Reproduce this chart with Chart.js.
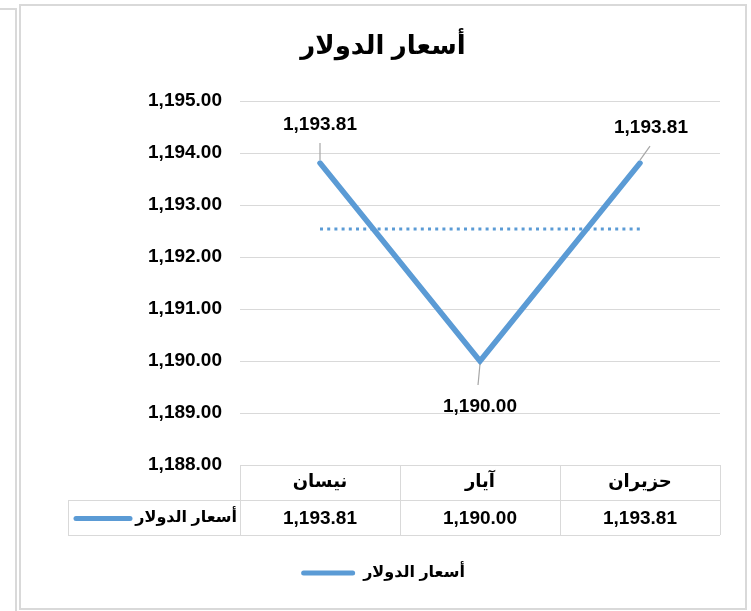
<!DOCTYPE html>
<html>
<head>
<meta charset="utf-8">
<script src="https://cdn.jsdelivr.net/npm/chart.js@4"></script>
<style>
  html, body { margin: 0; padding: 0; background: #fff; }
  #wrap { width: 751px; height: 611px; }
</style>
</head>
<body>
<div id="wrap"><canvas id="lineChart" width="751" height="611"></canvas></div>
<script>
// بيانات الرسم
const months = ['نيسان', 'آيار', 'حزيران'];
const prices = [1193.81, 1190.00, 1193.81];
const avgLine = [1192.54, 1192.54, 1192.54]; // الخط المنقط
const seriesName = 'أسعار الدولار';
const yMin = 1188, yMax = 1195;

const blue = '#5B9BD5';
const gridColor = '#d9d9d9';
const numFont = '"Liberation Sans", Arial, sans-serif';
const arFont = 'Arial, "Liberation Sans", "DejaVu Sans", sans-serif';

function fmt(v) {
    return v.toLocaleString('en-US', { minimumFractionDigits: 2, maximumFractionDigits: 2 });
}

// الإطار والجدول وتسميات النقاط
const extras = {
    id: 'extras',
    beforeDraw(chart) {
        const ctx = chart.ctx;
        ctx.save();
        ctx.strokeStyle = gridColor;
        ctx.lineWidth = 2;
        ctx.beginPath();
        ctx.moveTo(0, 9); ctx.lineTo(16, 9); ctx.lineTo(16, 611);
        ctx.stroke();
        ctx.beginPath();
        ctx.rect(20, 5, 726, 604);
        ctx.stroke();
        ctx.restore();
    },
    afterDraw(chart) {
        const ctx = chart.ctx;
        const x = chart.scales.x;
        const area = chart.chartArea;
        const step = x.getPixelForValue(1) - x.getPixelForValue(0);
        const top = area.bottom;
        const rowH = 35;
        const keyLeft = 68;

        ctx.save();
        // خطوط الجدول
        ctx.strokeStyle = gridColor;
        ctx.lineWidth = 1;
        ctx.beginPath();
        ctx.moveTo(area.left, top + 0.5); ctx.lineTo(area.right, top + 0.5);
        ctx.moveTo(keyLeft, top + rowH + 0.5); ctx.lineTo(area.right, top + rowH + 0.5);
        ctx.moveTo(keyLeft, top + 2 * rowH + 0.5); ctx.lineTo(area.right, top + 2 * rowH + 0.5);
        ctx.moveTo(keyLeft + 0.5, top + rowH); ctx.lineTo(keyLeft + 0.5, top + 2 * rowH);
        for (let i = 0; i <= months.length; i++) {
            const px = Math.round(x.getPixelForValue(i) - step / 2) + 0.5;
            ctx.moveTo(px, top); ctx.lineTo(px, top + 2 * rowH);
        }
        ctx.stroke();

        ctx.fillStyle = '#000';
        ctx.textAlign = 'center';
        ctx.textBaseline = 'middle';
        months.forEach((m, i) => {
            ctx.font = 'bold 18px ' + arFont;
            ctx.fillText(m, x.getPixelForValue(i), top + rowH / 2);
            ctx.font = 'bold 19px ' + numFont;
            ctx.fillText(fmt(prices[i]), x.getPixelForValue(i), top + rowH * 1.5 + 1);
        });

        // مفتاح السلسلة في الجدول
        ctx.strokeStyle = blue;
        ctx.lineWidth = 5;
        ctx.lineCap = 'round';
        ctx.beginPath();
        ctx.moveTo(76, top + rowH * 1.5 + 1);
        ctx.lineTo(130, top + rowH * 1.5 + 1);
        ctx.stroke();
        ctx.textAlign = 'right';
        ctx.font = 'bold 16px ' + arFont;
        ctx.fillText(seriesName, area.left - 3, top + rowH * 1.5);

        // تسميات البيانات مع خطوط الربط
        const meta = chart.getDatasetMeta(0);
        const offsets = [
            { dx: 0, dy: -38, lx: 0, ly: -20 },
            { dx: 0, dy: 46, lx: -2, ly: 24 },
            { dx: 11, dy: -35, lx: 10, ly: -17 }
        ];
        ctx.strokeStyle = '#a6a6a6';
        ctx.lineWidth = 1.2;
        ctx.lineCap = 'butt';
        ctx.font = 'bold 19px ' + numFont;
        ctx.textAlign = 'center';
        meta.data.forEach((pt, i) => {
            const o = offsets[i];
            const sy = o.ly < 0 ? -3 : 3;
            ctx.beginPath();
            ctx.moveTo(pt.x, pt.y + sy);
            ctx.lineTo(pt.x + o.lx, pt.y + o.ly);
            ctx.stroke();
            ctx.fillText(fmt(prices[i]), pt.x + o.dx, pt.y + o.dy);
        });
        ctx.restore();
    }
};

new Chart(document.getElementById('lineChart'), {
    type: 'line',
    data: {
        labels: months,
        datasets: [{
            label: seriesName,
            data: prices,
            borderColor: blue,
            backgroundColor: blue,
            borderWidth: 5.5,
            pointRadius: 0,
            tension: 0,
            borderCapStyle: 'round'
        }, {
            label: 'avg',
            data: avgLine,
            borderColor: blue,
            borderWidth: 3,
            borderDash: [3, 4.2],
            borderCapStyle: 'butt',
            pointRadius: 0
        }]
    },
    options: {
        responsive: false,
        animation: false,
        layout: { padding: { left: 20, right: 5, top: 0, bottom: 20 } },
        plugins: {
            title: {
                display: true,
                text: seriesName,
                color: '#000',
                font: { family: arFont, size: 26, weight: 'bold' },
                padding: { top: 31, bottom: 39 }
            },
            legend: {
                position: 'bottom',
                labels: {
                    color: '#000',
                    font: { family: arFont, size: 16, weight: 'bold' },
                    boxWidth: 54,
                    boxHeight: 5,
                    useBorderRadius: true,
                    borderRadius: 2.5,
                    padding: 10,
                    filter: item => item.datasetIndex === 0,
                    generateLabels: chart => {
                        const items = Chart.defaults.plugins.legend.labels.generateLabels(chart);
                        items.forEach(it => { it.lineWidth = 0; it.fillStyle = blue; it.strokeStyle = blue; });
                        return items;
                    }
                }
            },
            tooltip: { enabled: false }
        },
        scales: {
            x: {
                offset: true,
                ticks: { display: false },
                grid: { display: false },
                border: { display: false },
                afterFit: s => { s.height = 90; }
            },
            y: {
                min: yMin,
                max: yMax,
                ticks: {
                    stepSize: 1,
                    padding: 18,
                    color: '#000',
                    font: { family: numFont, size: 19, weight: 'bold' },
                    callback: v => fmt(v)
                },
                grid: { color: gridColor, lineWidth: 1, drawTicks: false },
                border: { display: false },
                afterFit: s => { s.width = 220; }
            },
            yR: {
                position: 'right',
                display: true,
                ticks: { display: false },
                grid: { display: false },
                border: { display: false },
                afterFit: s => { s.width = 26; }
            }
        }
    },
    plugins: [extras]
});
</script>
</body>
</html>
